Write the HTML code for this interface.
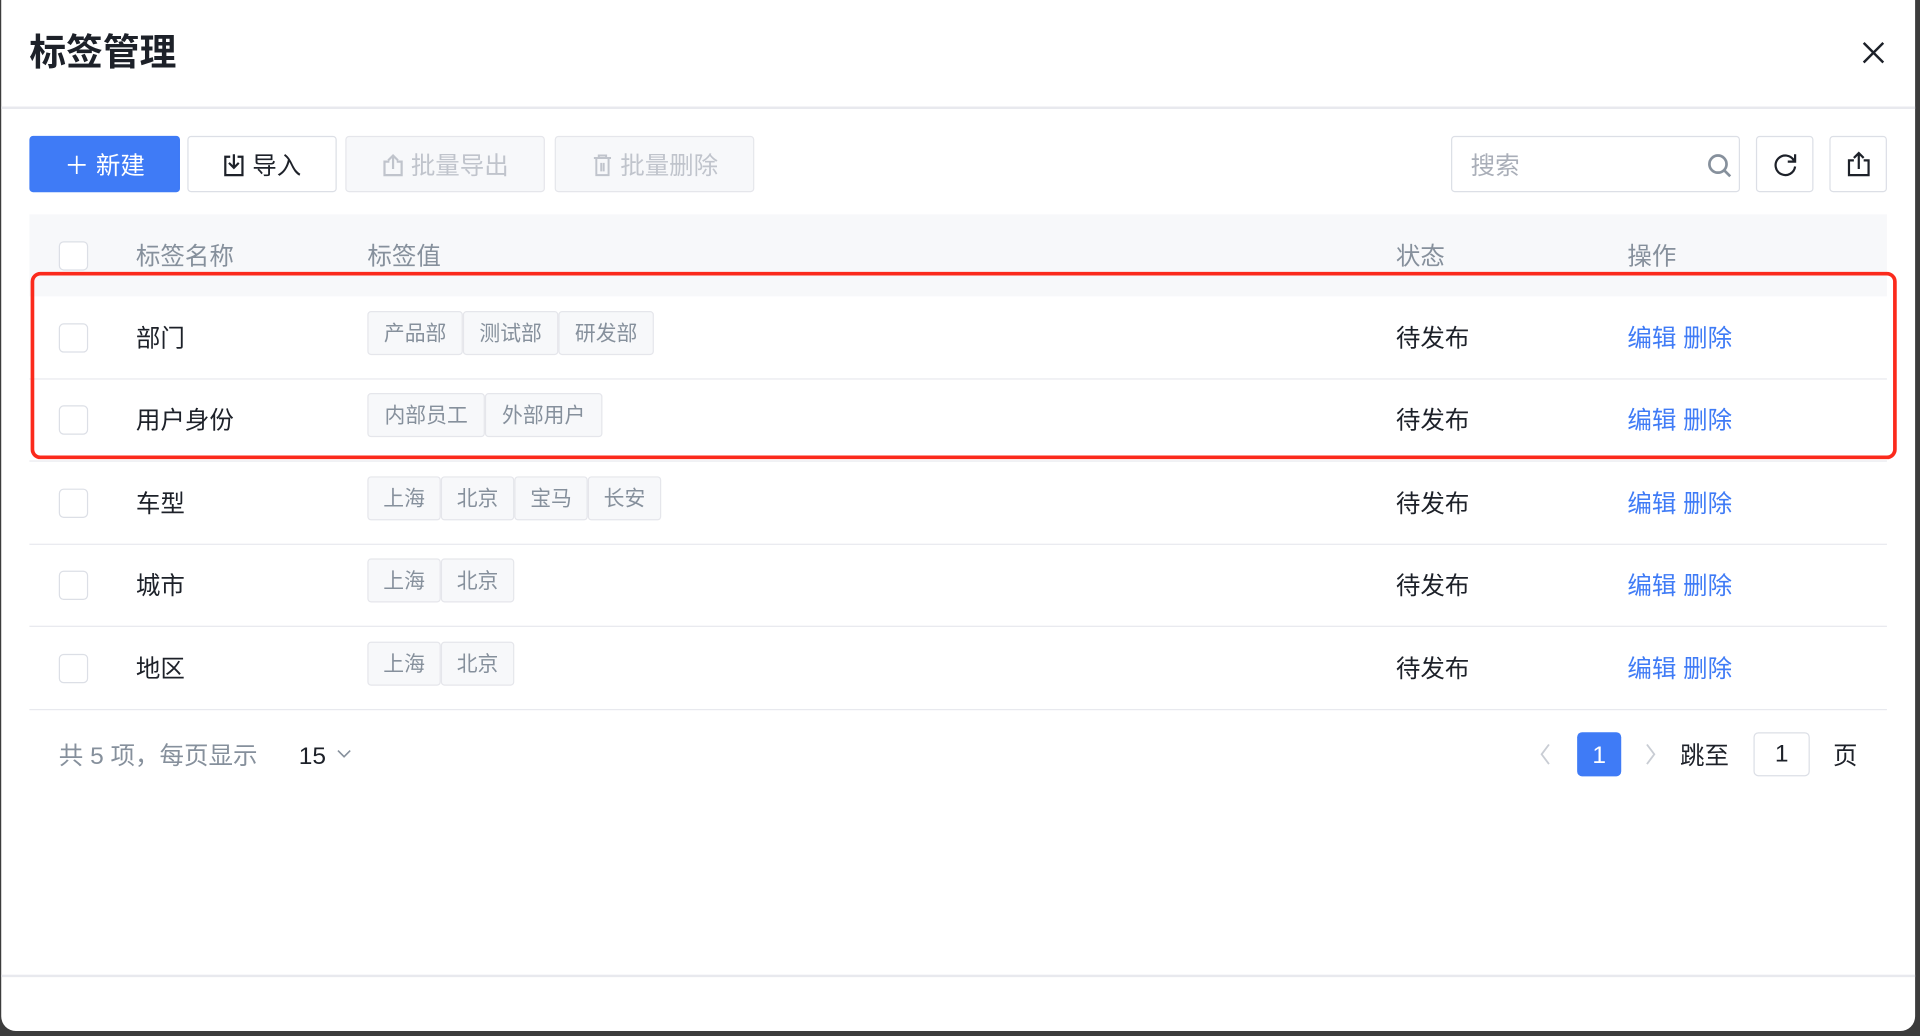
<!DOCTYPE html>
<html><head><meta charset="utf-8"><style>
html,body{margin:0;padding:0;width:1920px;height:1036px;overflow:hidden;background:#3c3c3c;}
#s{position:absolute;left:0;top:0;width:1568px;height:846px;transform:scale(1.22449);transform-origin:0 0;font-family:"Liberation Sans","Noto Sans CJK SC",sans-serif;}
.m{position:absolute;left:1px;top:0;width:1563px;height:842px;background:#fff;border-radius:0 0 12px 12px;}
.a{position:absolute;white-space:nowrap;}
.t{font-size:20px;color:#1d2129;line-height:24px;transform:translateY(2px);}
.g{color:#86909c;}
.btn{position:absolute;top:111px;height:46px;border:1px solid #dcdfe6;border-radius:3px;box-sizing:border-box;font-size:20px;line-height:48px;text-align:center;color:#1d2129;background:#fff;}
.dis{background:#f7f8fa;border-color:#e5e6eb;color:#c0c4cc;}
.cb{position:absolute;left:48px;width:22px;height:22px;border:1.5px solid #dcdfe6;border-radius:4px;background:#fff;}
.tag{position:absolute;height:34px;border:1px solid #e5e6eb;background:#f7f8fa;border-radius:3px;font-size:17px;line-height:36px;color:#86909c;text-align:center;box-sizing:content-box;}
.line{position:absolute;left:24px;width:1517px;height:1px;background:#e8e9ee;}
.op{color:#3f7bf6;}
</style></head><body><div id="s">
<div class="m"></div>
<div class="a" style="left:24px;top:26px;font-size:30px;font-weight:bold;color:#1d2129;line-height:36px;">标签管理</div>
<svg class="a" style="left:1520px;top:33px" width="20" height="20"><path d="M2 2L18 18M18 2L2 18" stroke="#1d2129" stroke-width="2"/></svg>
<div class="a" style="left:1px;top:87px;width:1563px;height:1.5px;background:#e8e9ee"></div>

<div class="btn" style="left:24px;width:123px;background:#3f7bf6;border-color:#3f7bf6;color:#fff;">＋ 新建</div>
<div class="btn" style="left:153px;width:122px;"><svg width="18" height="20" style="vertical-align:-3px;margin-right:6px"><path d="M6 3H2V18H16V3H12M9 1V12M5 8L9 12L13 8" stroke="#1d2129" stroke-width="1.8" fill="none"/></svg>导入</div>
<div class="btn dis" style="left:282px;width:163px;"><svg width="18" height="20" style="vertical-align:-3px;margin-right:6px"><path d="M6 7H2V18H16V7H12M9 13V2M5 6L9 2L13 6" stroke="#c0c4cc" stroke-width="1.8" fill="none"/></svg>批量导出</div>
<div class="btn dis" style="left:453px;width:163px;"><svg width="18" height="20" style="vertical-align:-3px;margin-right:6px"><path d="M2 4H16M6 4V2H12V4M4 4V18H14V4M8 8V15M10 8V15" stroke="#c0c4cc" stroke-width="1.6" fill="none"/></svg>批量删除</div>

<div class="btn" style="left:1185px;width:236px;text-align:left;padding-left:15px;color:#a9aeb8;">搜索</div>
<svg class="a" style="left:1393px;top:124px" width="22" height="22"><circle cx="10" cy="10" r="7" stroke="#86909c" stroke-width="2.2" fill="none"/><path d="M15 15L20 20" stroke="#86909c" stroke-width="2.2"/></svg>
<div class="btn" style="left:1434px;width:47px;"></div>
<svg class="a" style="left:1447px;top:123px" width="22" height="22"><path d="M18 8A8 8 0 1 0 19 13" stroke="#1d2129" stroke-width="1.8" fill="none"/><path d="M19 3V9H13" stroke="#1d2129" stroke-width="1.8" fill="none"/></svg>
<div class="btn" style="left:1494px;width:47px;"></div>
<svg class="a" style="left:1508px;top:123px" width="20" height="22"><path d="M6 8H2V20H18V8H14M10 15V2M6 6L10 2L14 6" stroke="#1d2129" stroke-width="1.8" fill="none"/></svg>

<div class="a" style="left:24px;top:175px;width:1517px;height:67px;background:#f7f8fa"></div>
<div class="cb" style="top:197px"></div>
<div class="a t g" style="left:111px;top:196px">标签名称</div>
<div class="a t g" style="left:300px;top:196px">标签值</div>
<div class="a t g" style="left:1140px;top:196px">状态</div>
<div class="a t g" style="left:1329px;top:196px">操作</div>

<div class="cb" style="top:264px"></div><div class="a t" style="left:111px;top:263px">部门</div>
<div class="tag" style="left:300px;top:254px;width:76px">产品部</div><div class="tag" style="left:378px;top:254px;width:76px">测试部</div><div class="tag" style="left:456px;top:254px;width:76px">研发部</div>
<div class="a t" style="left:1140px;top:263px">待发布</div><div class="a t op" style="left:1329px;top:263px">编辑 删除</div>
<div class="line" style="top:309px"></div>

<div class="cb" style="top:331px"></div><div class="a t" style="left:111px;top:330px">用户身份</div>
<div class="tag" style="left:300px;top:321px;width:94px">内部员工</div><div class="tag" style="left:396px;top:321px;width:94px">外部用户</div>
<div class="a t" style="left:1140px;top:330px">待发布</div><div class="a t op" style="left:1329px;top:330px">编辑 删除</div>
<div class="line" style="top:376px"></div>

<div class="cb" style="top:399px"></div><div class="a t" style="left:111px;top:398px">车型</div>
<div class="tag" style="left:300px;top:389px;width:58px">上海</div><div class="tag" style="left:360px;top:389px;width:58px">北京</div><div class="tag" style="left:420px;top:389px;width:58px">宝马</div><div class="tag" style="left:480px;top:389px;width:58px">长安</div>
<div class="a t" style="left:1140px;top:398px">待发布</div><div class="a t op" style="left:1329px;top:398px">编辑 删除</div>
<div class="line" style="top:444px"></div>

<div class="cb" style="top:466px"></div><div class="a t" style="left:111px;top:465px">城市</div>
<div class="tag" style="left:300px;top:456px;width:58px">上海</div><div class="tag" style="left:360px;top:456px;width:58px">北京</div>
<div class="a t" style="left:1140px;top:465px">待发布</div><div class="a t op" style="left:1329px;top:465px">编辑 删除</div>
<div class="line" style="top:511px"></div>

<div class="cb" style="top:534px"></div><div class="a t" style="left:111px;top:533px">地区</div>
<div class="tag" style="left:300px;top:524px;width:58px">上海</div><div class="tag" style="left:360px;top:524px;width:58px">北京</div>
<div class="a t" style="left:1140px;top:533px">待发布</div><div class="a t op" style="left:1329px;top:533px">编辑 删除</div>
<div class="line" style="top:579px"></div>

<div class="a" style="left:25px;top:222px;width:1518px;height:147px;border:3px solid #fb2a1c;border-radius:8px;"></div>

<div class="a t g" style="left:48px;top:604px">共 5 项，每页显示</div>
<div class="a t" style="left:244px;top:604px">15</div>
<svg class="a" style="left:275px;top:612px" width="12" height="8"><path d="M1 1L6 6L11 1" stroke="#86909c" stroke-width="1.3" fill="none"/></svg>
<svg class="a" style="left:1257px;top:607px" width="10" height="18"><path d="M8 1L2 9L8 17" stroke="#c9cdd4" stroke-width="1.5" fill="none"/></svg>
<div class="a" style="left:1288px;top:598px;width:36px;height:36px;background:#3f7bf6;border-radius:4px;color:#fff;font-size:20px;line-height:38px;text-align:center">1</div>
<svg class="a" style="left:1343px;top:607px" width="10" height="18"><path d="M2 1L8 9L2 17" stroke="#c9cdd4" stroke-width="1.5" fill="none"/></svg>
<div class="a t" style="left:1372px;top:604px">跳至</div>
<div class="a" style="left:1432px;top:598px;width:46px;height:36px;border:1.5px solid #dcdfe6;border-radius:4px;box-sizing:border-box;font-size:20px;line-height:35px;text-align:center;color:#1d2129">1</div>
<div class="a t" style="left:1497px;top:604px">页</div>

<div class="a" style="left:1px;top:796px;width:1563px;height:1.5px;background:#e8e9ee"></div>
</div></body></html>
